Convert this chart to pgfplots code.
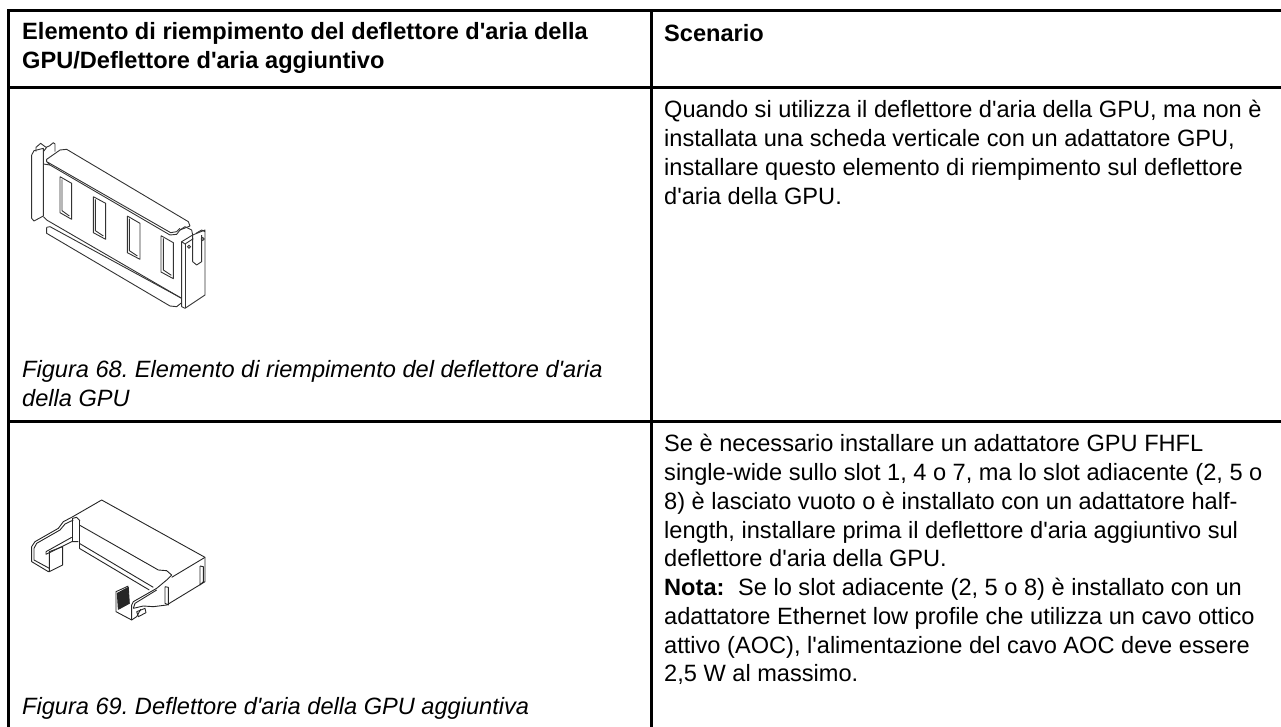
\documentclass[border=0pt]{standalone}
\usepackage{pgfplots}
\pgfplotsset{compat=1.18}
\usepackage{fontspec}
\setmainfont{Liberation Sans}
\newcommand{\fs}{\frenchspacing\fontsize{23.6}{29}\selectfont}
\newcommand{\q}{\textquotesingle}
\pgfplotsset{cycle list={{black}}}
\begin{document}
\begin{tikzpicture}[x=1pt,y=1pt]
\useasboundingbox (0pt,0pt) rectangle (1281pt,-727pt);
\begin{axis}[at={(0pt,0pt)},anchor=north west,width=1281pt,height=727pt,scale only axis,
 xmin=0,xmax=1281,ymin=0,ymax=727,y dir=reverse,hide axis,clip=false]
\addplot[black,line width=2.7pt] coordinates {(7.3,10.7)(1281,10.7)};
\addplot[black,line width=2.7pt] coordinates {(7.3,87.3)(1281,87.3)};
\addplot[black,line width=2.7pt] coordinates {(7.3,421.3)(1281,421.3)};
\addplot[black,line width=2.7pt] coordinates {(8.7,9.4)(8.7,727)};
\addplot[black,line width=2.7pt] coordinates {(651.3,9.4)(651.3,727)};
\node[anchor=base west,inner sep=0pt,font=\fs\bfseries] at (axis cs:22,39.5) {Elemento di riempimento del deflettore d\q{}aria della};
\node[anchor=base west,inner sep=0pt,font=\fs\bfseries] at (axis cs:22,68.5) {GPU/Deflettore d\q{}aria aggiuntivo};
\node[anchor=base west,inner sep=0pt,font=\fs\bfseries] at (axis cs:664,41) {Scenario};
\node[anchor=base west,inner sep=0pt,font=\fs] at (axis cs:664,117.7) {Quando si utilizza il deflettore d\q{}aria della GPU, ma non è};
\node[anchor=base west,inner sep=0pt,font=\fs] at (axis cs:664,146.5) {installata una scheda verticale con un adattatore GPU,};
\node[anchor=base west,inner sep=0pt,font=\fs] at (axis cs:664,175.2) {installare questo elemento di riempimento sul deflettore};
\node[anchor=base west,inner sep=0pt,font=\fs] at (axis cs:664,204) {d\q{}aria della GPU.};
\node[anchor=base west,inner sep=0pt,font=\fs\itshape] at (axis cs:22,377) {Figura 68. Elemento di riempimento del deflettore d\q{}aria};
\node[anchor=base west,inner sep=0pt,font=\fs\itshape] at (axis cs:22,406) {della GPU};
\node[anchor=base west,inner sep=0pt,font=\fs\itshape] at (axis cs:22,714.5) {Figura 69. Deflettore d\q{}aria della GPU aggiuntiva};
\node[anchor=base west,inner sep=0pt,font=\fs] at (axis cs:664,451.7) {Se è necessario installare un adattatore GPU FHFL};
\node[anchor=base west,inner sep=0pt,font=\fs] at (axis cs:664,480.5) {single-wide sullo slot 1, 4 o 7, ma lo slot adiacente (2, 5 o};
\node[anchor=base west,inner sep=0pt,font=\fs] at (axis cs:664,509.2) {8) è lasciato vuoto o è installato con un adattatore half-};
\node[anchor=base west,inner sep=0pt,font=\fs] at (axis cs:664,538) {length, installare prima il deflettore d\q{}aria aggiuntivo sul};
\node[anchor=base west,inner sep=0pt,font=\fs] at (axis cs:664,566.7) {deflettore d\q{}aria della GPU.};
\node[anchor=base west,inner sep=0pt,font=\fs] at (axis cs:664,595.5) {\textbf{Nota:}\hspace{0.3em} Se lo slot adiacente (2, 5 o 8) è installato con un};
\node[anchor=base west,inner sep=0pt,font=\fs] at (axis cs:664,624.2) {adattatore Ethernet low profile che utilizza un cavo ottico};
\node[anchor=base west,inner sep=0pt,font=\fs] at (axis cs:664,653) {attivo (AOC), l\q{}alimentazione del cavo AOC deve essere};
\node[anchor=base west,inner sep=0pt,font=\fs] at (axis cs:664,681.7) {2,5 W al massimo.};
\end{axis}
% illustration 1: coordinates are 3x crop pixels
\begin{axis}[at={(10pt,-120pt)},anchor=north west,width=260pt,height=220pt,scale only axis,
 xmin=0,xmax=780,ymin=0,ymax=660,y dir=reverse,hide axis,clip=false,
 every axis plot post/.append style={mark=none,line width=0.9pt,black!80,line join=round}]
\addplot coordinates {(65,105)(72,92)(100,85)(100,288)(72,303)(65,295)(65,105)};
\addplot coordinates {(78,95)(78,82)(92,70)(108,82)(118,78)(130,68)(135,72)(135,95)};
\addplot coordinates {(100,95)(110,82)};
\addplot coordinates {(110,118)(150,90)(170,88)(535,305)(540,318)(510,330)(500,343)(480,345)(120,135)(110,125)(110,118)};
\addplot coordinates {(112,126)(482,338)(500,335)(510,325)};
\addplot coordinates {(100,132)(120,135)};
\addplot coordinates {(100,290)(110,300)(515,535)};
\addplot coordinates {(110,322)(120,320)(515,535)};
\addplot coordinates {(110,322)(110,340)(480,558)(500,560)(515,548)};
\addplot coordinates {(150,170)(185,190)(185,298)(150,278)(150,170)};
\addplot coordinates {(156,178)(156,272)(178,288)};
\addplot coordinates {(250,230)(287,250)(287,358)(250,338)(250,230)};
\addplot coordinates {(256,238)(256,332)(280,348)};
\addplot coordinates {(352,288)(390,310)(390,418)(352,398)(352,288)};
\addplot coordinates {(358,296)(358,392)(382,408)};
\addplot coordinates {(453,347)(490,368)(490,476)(453,456)(453,347)};
\addplot coordinates {(460,355)(460,450)(484,466)};
\addplot coordinates {(515,365)(548,345)(585,330)(585,525)(525,565)(515,560)(515,365)};
\addplot coordinates {(525,372)(525,565)};
\addplot coordinates {(515,365)(525,372)(550,356)};
\addplot coordinates {(548,345)(548,425)(560,435)(575,425)(575,345)};
\addplot coordinates {(510,330)(525,320)(545,330)(548,345)};
\addplot coordinates {(558,340)(575,330)(585,335)};
\end{axis}
\begin{axis}[at={(10pt,-120pt)},anchor=north west,width=260pt,height=220pt,scale only axis,
 xmin=0,xmax=780,ymin=0,ymax=660,y dir=reverse,hide axis,clip=false]
\addplot[only marks,mark=o,mark size=1.5pt,black!80,mark options={line width=0.9pt}] coordinates {(537,380)(578,357)};
\end{axis}
% illustration 2
\begin{axis}[at={(10pt,-500pt)},anchor=north west,width=260pt,height=180pt,scale only axis,
 xmin=0,xmax=780,ymin=0,ymax=540,y dir=reverse,hide axis,clip=false,
 every axis plot post/.append style={mark=none,line width=0.9pt,black!85,line join=round}]
\addplot coordinates {(185,52)(275,0)(585,172)(585,245)(470,315)(430,320)(400,318)(370,325)};
\addplot coordinates {(585,172)(485,232)};
\addplot coordinates {(185,52)(160,65)(145,85)(75,125)(65,140)(65,185)(115,215)(120,212)};
\addplot coordinates {(190,60)(165,72)(150,90)(80,130)(72,145)(72,180)(118,205)};
\addplot coordinates {(118,155)(158,140)(158,195)(118,215)(118,155)};
\addplot coordinates {(108,155)(108,163)(155,140)(185,125)(205,125)};
\addplot coordinates {(108,155)(185,112)};
\addplot coordinates {(188,55)(188,125)};
\addplot coordinates {(208,60)(208,145)};
\addplot coordinates {(188,55)(200,52)(210,62)};
\addplot coordinates {(208,75)(445,210)(470,212)(485,225)(470,240)(440,265)(370,305)(365,315)(365,360)(318,335)(318,275)(355,258)};
\addplot coordinates {(440,270)(375,310)(370,325)};
\addplot coordinates {(208,130)(430,262)};
\addplot coordinates {(208,145)(418,270)};
\addplot[fill=black!65] coordinates {(322,280)(355,262)(358,310)(325,328)} --cycle;
\addplot coordinates {(365,360)(380,350)(392,328)};
\addplot coordinates {(380,335)(405,325)(408,338)(385,350)(380,335)};
\addplot coordinates {(465,260)(465,310)(475,315)(475,262)(465,260)};
\addplot coordinates {(570,198)(570,255)(580,245)(580,200)(570,198)};
\end{axis}
\end{tikzpicture}
\end{document}
